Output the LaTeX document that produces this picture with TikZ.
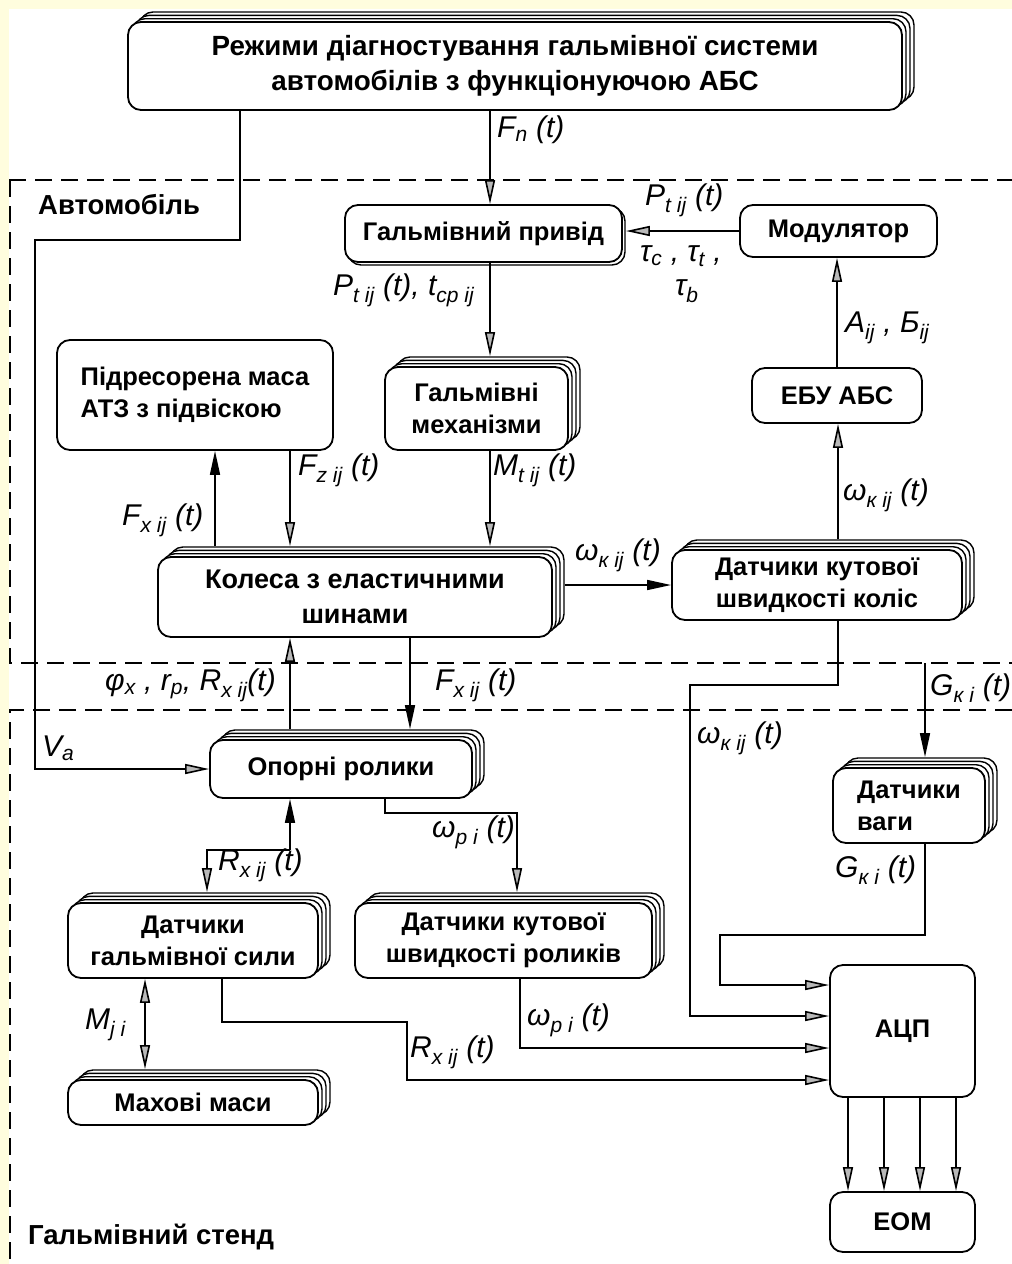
\documentclass[tikz,border=0pt]{standalone}
\usepackage{fontspec}
\setmainfont{Liberation Sans}
\usepackage{graphicx}
\usetikzlibrary{arrows.meta,shadows,calc}
\definecolor{bgyellow}{RGB}{255,253,222}
\newcommand\bxfont{\fontsize{25.5}{32}\selectfont\bfseries}
\newcommand\bxtopfont{\fontsize{27.8}{35}\selectfont\bfseries}
\newcommand\lbfont{\fontsize{30}{30}\selectfont\itshape}
\newcommand\ttlfont{\fontsize{27.5}{27.5}\selectfont\bfseries}
\newcommand\sbt[1]{\textsubscript{#1}}
\tikzset{
  box/.style={draw=black, line width=1.8pt, rounded corners=13pt, fill=white, align=center, font=\bxfont, inner sep=0pt},
  stackbox/.style={box,
     copy shadow={shadow xshift=12pt, shadow yshift=10pt, draw=black, fill=white, line width=1.4pt},
     copy shadow={shadow xshift=8pt, shadow yshift=6.6pt, draw=black, fill=white, line width=1.4pt},
     copy shadow={shadow xshift=4pt, shadow yshift=3.3pt, draw=black, fill=white, line width=1.4pt}},
  ln/.style={line width=1.6pt},
  arr/.style={ln, -{Triangle[length=24pt,width=10pt,fill=gray!55]}},
  arrk/.style={ln, -{Triangle[length=24pt,width=10pt]}},
  dbl/.style={ln, {Triangle[length=24pt,width=10pt,fill=gray!55]}-{Triangle[length=24pt,width=10pt,fill=gray!55]}},
  dsh/.style={line width=1.2pt, dash pattern=on 17pt off 9pt},
  lbl/.style={font=\lbfont, inner sep=0pt, anchor=west},
  ttl/.style={font=\ttlfont, inner sep=0pt, anchor=west}
}
\begin{document}
\begin{tikzpicture}[x=1pt,y=-1pt]
\fill[bgyellow] (0,0) rectangle (1012,1264);
\fill[white] (9,9) rectangle (1012,1264);
\useasboundingbox (0,0) rectangle (1012,1264);

% dashed frames
\draw[dsh] (9,180) -- (1012,180);
\draw[dsh] (10,180) -- (10,663) -- (1012,663);
\draw[dsh] (1012,710) -- (10,710) -- (10,1264);

% nodes
\node[stackbox, font=\bxtopfont, minimum width=774pt, minimum height=88pt] (top) at (515,66) {Режими діагностування гальмівної системи\\автомобілів з функціонуючою АБС};
\node[box, copy shadow={shadow xshift=3pt, shadow yshift=-3pt, draw=black, fill=white, line width=1.4pt}, minimum width=277pt, minimum height=57pt] (privid) at (483.5,233.5) {Гальмівний привід};
\node[box, minimum width=197pt, minimum height=52pt] (mod) at (838.5,231) {Модулятор};
\node[box, align=left, minimum width=276pt, minimum height=110pt] (pid) at (195,395) {Підресорена маса\\АТЗ з підвіскою};
\node[stackbox, minimum width=183pt, minimum height=83pt] (mech) at (476.5,408.5) {Гальмівні\\механізми};
\node[box, minimum width=170pt, minimum height=55pt] (ebu) at (837,395.5) {ЕБУ АБС};
\node[stackbox, font=\fontsize{27}{35}\selectfont\bfseries, minimum width=394pt, minimum height=80pt] (kol) at (355,597) {Колеса з еластичними\\шинами};
\node[stackbox, minimum width=290pt, minimum height=70pt] (dkol) at (817,585) {Датчики кутової\\швидкості коліс};
\node[stackbox, minimum width=262pt, minimum height=58pt] (opor) at (341,769) {Опорні ролики};
\node[stackbox, align=left, minimum width=152pt, minimum height=75pt] (vagi) at (909,805.5) {Датчики\\ваги};
\node[stackbox, minimum width=250pt, minimum height=75pt] (dgs) at (193,940.5) {Датчики\\гальмівної сили};
\node[stackbox, minimum width=297pt, minimum height=75pt] (drol) at (503.5,940.5) {Датчики кутової\\швидкості роликів};
\node[stackbox, minimum width=250pt, minimum height=45pt] (mah) at (193,1102.5) {Махові маси};
\node[box, minimum width=145pt, minimum height=132pt] (acp) at (902.5,1031) {АЦП};
\node[box, minimum width=145pt, minimum height=60pt] (eom) at (902.5,1222) {ЕОМ};

% layer tops
\coordinate (mecht) at ([yshift=10pt]mech.north);
\coordinate (kolt) at ([yshift=10pt]kol.north);
\coordinate (kolr) at ([xshift=12pt]kol.east);
\coordinate (dkolt) at ([yshift=10pt]dkol.north);
\coordinate (oport) at ([yshift=10pt]opor.north);
\coordinate (vagit) at ([yshift=10pt]vagi.north);
\coordinate (dgst) at ([yshift=10pt]dgs.north);
\coordinate (drolt) at ([yshift=10pt]drol.north);
\coordinate (maht) at ([yshift=10pt]mah.north);

% titles
\node[ttl] (tauto) at (38,205) {Автомобіль};
\node[ttl] (tstend) at (28,1237) {Гальмівний стенд};

% connectors
\draw[arr] (240,0 |- top.south) -- (240,240) -- (35,240) -- (35,0 |- opor.west) -- (opor.west);
\draw[arr] (490,0 |- top.south) -- (490,0 |- privid.north);
\draw[arr] (mod.west) -- ([xshift=3pt]mod.west -| privid.east);
\draw[arr] (490,0 |- privid.south) -- (490,0 |- mecht);
\draw[arr] (ebu.north) -- (ebu.north |- mod.south);
\draw[arr] (838,0 |- dkolt) -- (838,0 |- ebu.south);
\draw[arr] (838,0 |- dkol.south) -- (838,685) -- (690,685) -- (690,1016) -- (acp.west |- 0,1016);
\draw[arrk] (kolr |- 0,585) -- (dkol.west |- 0,585);
\draw[arrk] (215,0 |- kolt) -- (215,0 |- pid.south);
\draw[arr] (290,0 |- pid.south) -- (290,0 |- kolt);
\draw[arr] (490,0 |- mech.south) -- (490,0 |- kolt);
\draw[arr] (290,0 |- oport) -- (290,0 |- kol.south);
\draw[arrk] (410,0 |- kol.south) -- (410,0 |- oport);
\draw[arr] (385,0 |- opor.south) -- (385,813) -- (517,813) -- (517,0 |- drolt);
\coordinate (rx) at (290,850);
\draw[arrk] (rx) -- (290,0 |- opor.south);
\draw[arr] (rx) -- (207,850) -- (207,0 |- dgst);
\draw[dbl] (145,0 |- dgs.south) -- (145,0 |- maht);
\draw[arr] (222,0 |- dgs.south) -- (222,1022) -- (407,1022) -- (407,1080) -- (acp.west |- 0,1080);
\draw[arr] (520,0 |- drol.south) -- (520,1048) -- (acp.west |- 0,1048);
\coordinate (gst) at (925,663);
\draw[arrk] (gst) -- (925,0 |- vagit);
\draw[arr] (925,0 |- vagi.south) -- (925,935) -- (720,935) -- (720,985) -- (acp.west |- 0,985);
\foreach \xx in {848,884,920,956} {
  \draw[arr] (\xx,0 |- acp.south) -- (\xx,0 |- eom.north);
}

% labels
\node[lbl] (lfn) at (497,130) {F\sbt{n} (t)};
\node[lbl] (lpt1) at (645,200) {P\sbt{t ij} (t)};
\node[lbl] (ltau) at (640,256) {τ\sbt{c} , τ\sbt{t} ,};
\node[lbl] (ltaub) at (675,291) {τ\sbt{b}};
\node[lbl] (lpt2) at (333,290) {P\sbt{t ij} (t), t\sbt{ср ij}};
\node[lbl] (lab) at (845,328) {A\sbt{ij} , Б\sbt{ij}};
\node[lbl] (lfx1) at (122,520) {F\sbt{x ij} (t)};
\node[lbl] (lfz) at (298,470) {F\sbt{z ij} (t)};
\node[lbl] (lmt) at (493,470) {M\sbt{t ij} (t)};
\node[lbl] (lw1) at (575,555) {ω\sbt{к ij} (t)};
\node[lbl] (lw2) at (843,495) {ω\sbt{к ij} (t)};
\node[lbl] (lphi) at (105,685) {φ\sbt{x} , r\sbt{p}, R\sbt{x ij}(t)};
\node[lbl] (lfx2) at (435,685) {F\sbt{x ij} (t)};
\node[lbl] (lg1) at (930,688) {G\sbt{к i} (t)};
\node[lbl] (lw3) at (697,738) {ω\sbt{к ij} (t)};
\node[lbl] (lva) at (42,748) {V\sbt{a}};
\node[lbl] (lwp1) at (432,832) {ω\sbt{p i} (t)};
\node[lbl] (lrx1) at (218,865) {R\sbt{x ij} (t)};
\node[lbl] (lg2) at (835,870) {G\sbt{к i} (t)};
\node[lbl] (lmj) at (85,1025) {M\sbt{j i}};
\node[lbl] (lwp2) at (527,1020) {ω\sbt{p i} (t)};
\node[lbl] (lrx2) at (410,1052) {R\sbt{x ij} (t)};
\end{tikzpicture}
\end{document}
